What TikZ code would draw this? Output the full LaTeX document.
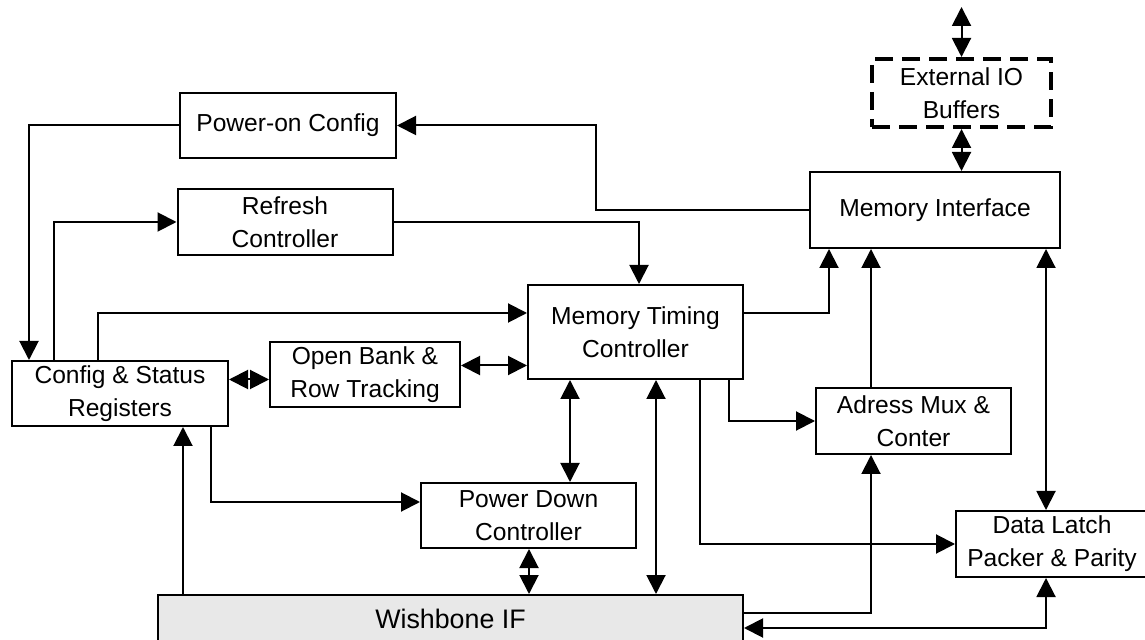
\documentclass[tikz,border=0pt]{standalone}
\usepackage{fontspec}
\setmainfont{Liberation Sans}
\usepackage{tikz}
\usetikzlibrary{arrows.meta,positioning,calc}

\begin{document}
\begin{tikzpicture}[on grid,
   blk/.style={draw, line width=1pt, align=center, inner sep=0pt, minimum height=32.5pt,
      font=\fontsize{12.3}{16.5}\selectfont},
   arr/.style={line width=1pt, -{Triangle[length=9.5pt,width=9.5pt]}},
   biarr/.style={line width=1pt, {Triangle[length=9.5pt,width=9.5pt]}-{Triangle[length=9.5pt,width=9.5pt]}}]
   \path[use as bounding box, fill=white] (0,0) rectangle (572.5pt,-320pt);
   \node[blk, minimum width=108pt] (csr) at (60pt,-196.75pt) {Config \& Status\\Registers};
   \node[blk, minimum width=108pt] (poc) [above right=134pt and 84pt of csr] {Power-on Config};
   \node[blk, minimum width=107.5pt, minimum height=33pt] (rfc) [above right=85.75pt and 82.5pt of csr] {Refresh\\Controller};
   \node[blk, minimum width=95pt] (obr) [above right=9.5pt and 122.5pt of csr] {Open Bank \&\\Row Tracking};
   \node[blk, minimum width=107.5pt, minimum height=47pt] (mtc) [above right=21.25pt and 135.25pt of obr] {Memory Timing\\Controller};
   \node[blk, minimum width=107.5pt] (pdc) [below left=91.75pt and 53.5pt of mtc] {Power Down\\Controller};
   \node[blk, minimum width=292.5pt, minimum height=23.5pt, fill=black!9,
      font=\fontsize{13.4}{16}\selectfont] (wif) [below left=51.5pt and 39pt of pdc] {Wishbone IF};
   \node[blk, minimum width=97.5pt, minimum height=33pt] (amc) [below right=44.5pt and 139pt of mtc] {Adress Mux \&\\Conter};
   \node[blk, minimum width=96pt, minimum height=33pt] (dlp) [below right=61.5pt and 69.25pt of amc] {Data Latch\\Packer \& Parity};
   \node[blk, minimum width=125pt, minimum height=38pt] (mif) [above right=61pt and 149.75pt of mtc] {Memory Interface};
   \node[blk, minimum width=89.5pt, minimum height=34pt, line width=2pt,
      dash pattern=on 9pt off 4.5pt] (eio) [above right=58.5pt and 13.25pt of mif] {External IO\\Buffers};
   \coordinate[above=25pt of eio.north] (pad);

   % control paths
   \draw[arr] (mif.west) -- ++(-106.5pt,0) |- (poc.east);
   \draw[arr] (poc.west) -| ($(csr.north west)+(9pt,0)$);
   \draw[arr] ($(csr.north west)+(21.5pt,0)$) |- (rfc.west);
   \draw[arr] ($(csr.north west)+(43.5pt,0)$) |- ($(mtc.west)+(0,9.5pt)$);
   \draw[biarr] ($(obr.west)+(0,-2.5pt)$) coordinate (ob1) -- (ob1 -| csr.east);
   \draw[biarr] ($(obr.east)+(0,4.5pt)$) coordinate (ob2) -- (ob2 -| mtc.west);
   \draw[arr] (rfc.east) -| ($(mtc.north west)+(56pt,0)$);
   \draw[arr] ($(mtc.east)+(0,9.5pt)$) -| ($(mif.south west)+(10pt,0)$);
   \draw[arr] ($(amc.north west)+(28pt,0)$) coordinate (am1) -- (am1 |- mif.south);
   \draw[biarr] ($(mif.south east)+(-7.5pt,0)$) coordinate (mf1) -- (mf1 |- dlp.north);
   \draw[biarr] (mf1 |- dlp.south) |- ($(wif.east)+(0,-4.75pt)$);
   \draw[arr] ($(wif.east)+(0,2.75pt)$) -| (am1 |- amc.south);
   \draw[arr] ($(mtc.south west)+(101pt,0)$) |- (amc.west);
   \draw[arr] ($(mtc.south west)+(86.5pt,0)$) |- (dlp.west);
   \draw[biarr] ($(mtc.south west)+(64.5pt,0)$) coordinate (mt1) -- (mt1 |- wif.north);
   \draw[biarr] ($(mtc.south west)+(21.5pt,0)$) coordinate (mt2) -- (mt2 |- pdc.north);
   \draw[biarr] ($(pdc.south west)+(54.5pt,0)$) coordinate (pd1) -- (pd1 |- wif.north);
   \draw[arr] ($(wif.north west)+(13pt,0)$) coordinate (wb1) -- (wb1 |- csr.south);
   \draw[arr] ($(csr.south west)+(100pt,0)$) |- ($(pdc.west)+(0,6.75pt)$);
   % io pins
   \draw[biarr] (eio.north) -- (pad);
   \draw[biarr] (eio.south) -- (eio.south |- mif.north);
\end{tikzpicture}
\end{document}
